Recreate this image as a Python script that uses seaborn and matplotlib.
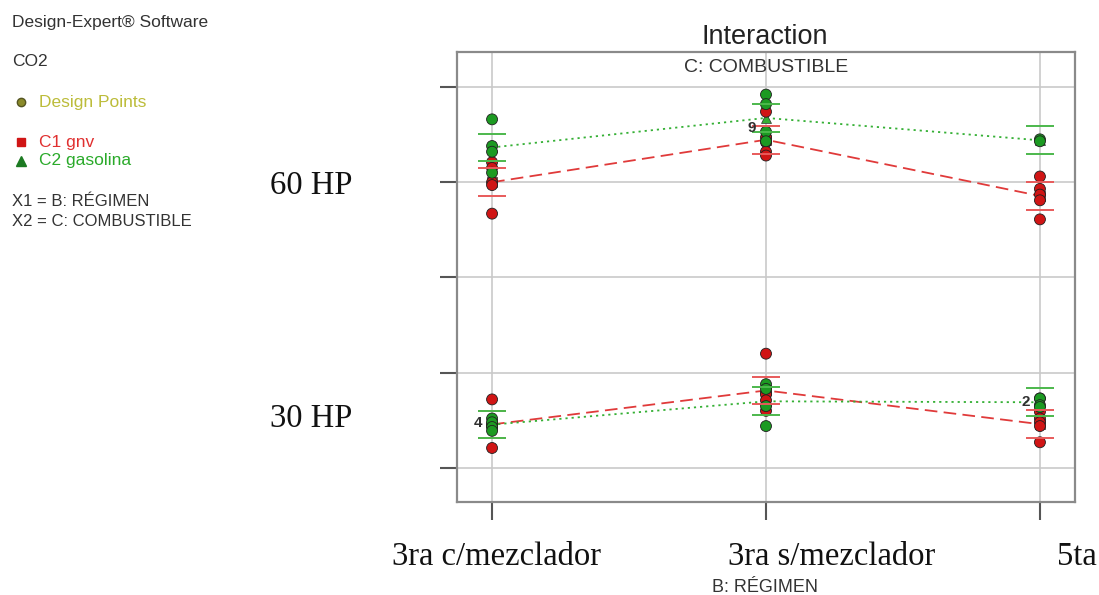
import numpy as np
import pandas as pd
import matplotlib.pyplot as plt
import seaborn as sns

regimen = ["3ra c/mezclador", "3ra s/mezclador", "5ta"]
potencia = ["60 HP", "30 HP"]
combustible = ["C1 gnv", "C2 gasolina"]

# CO2 design points per regimen (axis units hidden)
gnv_60 = [[13.21, 13.15, 13.00, 12.97, 12.67],
          [13.74, 13.47, 13.42, 13.32, 13.28],
          [13.06, 12.93, 12.87, 12.81, 12.61]]
gas_60 = [[13.66, 13.38, 13.32, 13.10],
          [13.92, 13.82, 13.53, 13.43],
          [13.45, 13.43]]
gnv_30 = [[10.72, 10.46, 10.44, 10.21],
          [11.20, 10.79, 10.77, 10.71, 10.60],
          [10.59, 10.52, 10.48, 10.44, 10.27]]
gas_30 = [[10.52, 10.48, 10.43, 10.39],
          [10.88, 10.83, 10.65, 10.44],
          [10.73, 10.73, 10.66, 10.64]]
lsd_half = 0.145
y_grid = [10, 11, 12, 13, 14]

# overlap counts printed next to stacked points
count_text = ["9", "4", "2"]
count_pos = [1, 0, 2]
count_val = [13.57, 10.47, 10.69]

rows = []
for hp, gnv, gas in [("60 HP", gnv_60, gas_60), ("30 HP", gnv_30, gas_30)]:
    for comb, series in [("C1 gnv", gnv), ("C2 gasolina", gas)]:
        for i, vals in enumerate(series):
            for v in vals:
                rows.append({"hp": hp, "comb": comb, "pos": i, "co2": v})
df = pd.DataFrame(rows)

sns.set_style("white")
plt.rcParams["font.family"] = ["Liberation Sans", "DejaVu Sans"]

W, H = 1099, 595
fig = plt.figure(figsize=(W / 100, H / 100), dpi=100)
ax = fig.add_axes([457 / W, 1 - 502 / H, (1075 - 457) / W, (502 - 52) / H])

pt_pal = {"C1 gnv": "#d01515", "C2 gasolina": "#1c9a22"}
ln_pal = {"C1 gnv": "#e03a3a", "C2 gasolina": "#35b035"}
bar_pal = {"C1 gnv": "#e85a5a", "C2 gasolina": "#4cb84c"}

for hp in potencia:
    sub = df[df["hp"] == hp]
    sns.lineplot(data=sub, x="pos", y="co2", hue="comb", style="comb",
                 estimator="mean", errorbar=None, palette=ln_pal,
                 dashes={"C1 gnv": (7, 3.5), "C2 gasolina": (1.2, 2.2)},
                 markers={"C1 gnv": "s", "C2 gasolina": "^"},
                 markersize=7, markeredgecolor="#303030", markeredgewidth=0.5,
                 linewidth=1.3, legend=False, ax=ax, zorder=3)

sns.scatterplot(data=df, x="pos", y="co2", hue="comb", palette=pt_pal,
                s=62, edgecolor="#202020", linewidth=0.6, legend=False,
                ax=ax, zorder=4)

means = df.groupby(["hp", "comb", "pos"])["co2"].mean().reset_index()
for _, r in means.iterrows():
    for v in (r["co2"] - lsd_half, r["co2"] + lsd_half):
        ax.hlines(v, r["pos"] - 0.05, r["pos"] + 0.05, color=bar_pal[r["comb"]],
                  linewidth=1.4, zorder=5)

for t, p, v in zip(count_text, count_pos, count_val):
    ax.text(p - 0.035, v, t, ha="right", va="center", fontsize=11,
            fontweight="bold", color="#303030", zorder=6)

ax.set_xlim(-0.128, 2.128)
ax.set_ylim(9.643, 14.367)
ax.set_xticks(range(len(regimen)))
ax.set_xticklabels([])
ax.set_yticks(y_grid)
ax.set_yticklabels([])
ax.set_xlabel("")
ax.set_ylabel("")
ax.grid(True, color="#c9c9c9", linewidth=1.2)
ax.set_axisbelow(True)
for s in ax.spines.values():
    s.set_color("#8a8a8a")
    s.set_linewidth(1.6)
ax.tick_params(axis="y", direction="out", length=12, width=1.5, color="#555555", left=True)
ax.tick_params(axis="x", direction="out", length=13, width=1.5, color="#555555", bottom=True)
ax.text(0.5, 0.965, "C: COMBUSTIBLE", transform=ax.transAxes, ha="center", va="center",
        fontsize=14, color="#333333")


def ftext(x, y, s, **kw):
    fig.text(x / W, 1 - y / H, s, **kw)


ftext(765, 37, "Interaction", ha="center", va="center", fontsize=19.5, color="#222222")
ftext(765, 588, "B: RÉGIMEN", ha="center", va="center", fontsize=13, color="#333333")

serif = ["Liberation Serif", "DejaVu Serif"]
for s, x in zip(regimen, [497, 832, 1077]):
    ftext(x, 557, s, ha="center", va="center", fontsize=23.5, family=serif, color="#111111")
for s, y in zip(potencia, [186, 419]):
    ftext(311, y, s, ha="center", va="center", fontsize=23.5, family=serif, color="#111111")

ftext(12, 22, "Design-Expert® Software", va="center", fontsize=12.5, color="#333333")
ftext(12, 62, "CO2", va="center", fontsize=12.5, color="#333333")
fig.lines.append(plt.Line2D([21 / W], [1 - 102 / H], marker="o", markersize=6,
                            markerfacecolor="#8a8a2a", markeredgecolor="#555522",
                            transform=fig.transFigure))
ftext(39, 102, "Design Points", va="center", fontsize=12.5, color="#bcbc3a")
fig.lines.append(plt.Line2D([21 / W], [1 - 142 / H], marker="s", markersize=6,
                            color="#d01515", transform=fig.transFigure))
ftext(39, 142, combustible[0], va="center", fontsize=12.5, color="#e03030")
fig.lines.append(plt.Line2D([21 / W], [1 - 161 / H], marker="^", markersize=7,
                            color="#1c7a22", transform=fig.transFigure))
ftext(39, 161, combustible[1], va="center", fontsize=12.5, color="#2aaa2a")
ftext(12, 201, "X1 = B: RÉGIMEN", va="center", fontsize=12, color="#333333")
ftext(12, 221, "X2 = C: COMBUSTIBLE", va="center", fontsize=12, color="#333333")

fig.savefig("out.png", dpi=100, facecolor="white")
